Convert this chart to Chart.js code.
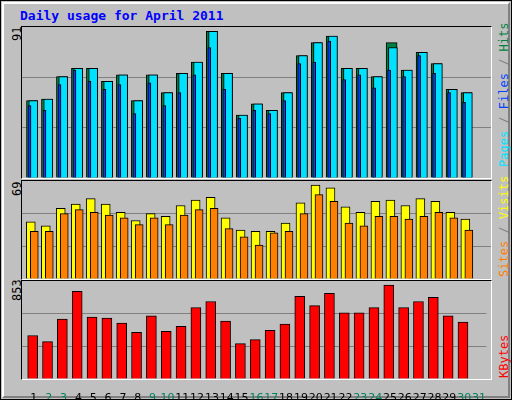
<!DOCTYPE html>
<html><head><meta charset="utf-8">
<script src="https://cdn.jsdelivr.net/npm/chart.js@4"></script>
<style>
body{margin:0;background:#fff}
#frame{position:absolute;left:0;top:0;width:510px;height:398px;border:1px solid #000;background:#c0c0c0;overflow:hidden}
#bev{position:absolute;left:1px;top:1px;width:504px;height:392px;border-top:2px solid #fff;border-left:2px solid #fff;border-right:2px solid #808080;border-bottom:2px solid #808080}
.panel{position:absolute;left:20px;width:469px;border-top:1px solid #000;border-left:1px solid #000;border-right:1px solid #fff;border-bottom:1px solid #fff}
canvas{position:absolute}
.t{position:absolute;font-family:"DejaVu Sans Mono",monospace;font-size:12px;white-space:nowrap}
.rot{transform-origin:0 0;transform:rotate(-90deg)}
</style></head><body>
<div id="frame"><div id="bev"></div>
<div class="t" style="left:19px;top:7px;color:#0000ff;font-weight:bold;font-size:13px">Daily usage for April 2011</div>
<div class="panel" style="top:25px;height:151px"></div>
<div class="panel" style="top:179px;height:98px"></div>
<div class="panel" style="top:279px;height:98px"></div>
<div class="t rot" id="l1" style="left:9px;top:40px;color:#000"></div>
<div class="t rot" id="l2" style="left:9px;top:195px;color:#000"></div>
<div class="t rot" id="l3" style="left:9px;top:300px;color:#000"></div>
<div class="t rot" style="left:496px;top:166px"><span style="color:#00e0ff">Pages</span><span style="color:#808080"> / </span><span style="color:#0040ff">Files</span><span style="color:#808080"> / </span><span style="color:#008040">Hits</span></div>
<div class="t rot" style="left:496px;top:276px"><span style="color:#ff8000">Sites</span><span style="color:#808080"> / </span><span style="color:#ffff00">Visits</span></div>
<div class="t rot" style="left:496px;top:377px;color:#ff0000">KBytes</div>
<canvas id="c1" style="left:21px;top:26px"></canvas>
<canvas id="c2" style="left:21px;top:180px"></canvas>
<canvas id="c3" style="left:21px;top:280px"></canvas>
</div>
<script>
const days=[1,2,3,4,5,6,7,8,9,10,11,12,13,14,15,16,17,18,19,20,21,22,23,24,25,26,27,28,29,30];
const allDays=[...days,31];
const weekend=[2,3,9,10,16,17,23,24,30,31];
const hits=[48,49,63,68,68,60,64,48,64,53,65,72,91,65,39,46,42,53,76,84,88,68,68,63,84,67,78,71,55,53];
const files=[48,49,63,68,68,60,64,48,64,53,65,72,91,65,39,46,42,53,76,84,88,68,68,63,81,67,78,71,55,53];
const pages=[45,42,58,67,60,55,58,40,59,45,53,64,81,55,37,42,40,48,71,72,85,61,64,56,67,63,76,65,53,47];
const visits=[42,39,52,55,59,55,49,43,48,46,54,58,60,45,36,35,35,41,56,69,67,53,49,57,58,54,59,57,49,44];
const sites=[35,35,48,51,49,47,45,40,45,40,47,51,52,37,31,25,34,35,48,62,57,41,39,46,46,44,46,49,45,36];
const kbytes=[395,339,545,797,563,554,507,423,573,433,479,648,704,526,321,358,442,498,750,666,778,601,601,648,853,648,704,741,573,517];

document.getElementById('l1').textContent=Math.max(...hits);
document.getElementById('l2').textContent=Math.max(...visits);
document.getElementById('l3').textContent=Math.max(...kbytes);

const PX=15.02;
function ds(vals,color,w,offPx,order){
  return {data:days.map((d,i)=>({x:d+offPx/PX,y:vals[i]})),backgroundColor:color,borderColor:'#000',borderWidth:1,
    barThickness:w,grouped:false,borderSkipped:'bottom',order};
}
function mk(id,w,h,datasets,ymax,withX){
  const c=document.getElementById(id);c.width=w;c.height=h;c.style.width=w+'px';c.style.height=h+'px';
  new Chart(c,{type:'bar',data:{datasets},options:{
    responsive:false,animation:false,devicePixelRatio:1,
    layout:{padding:0},
    plugins:{legend:{display:false},tooltip:{enabled:false}},
    scales:{
      x:{type:'linear',min:0.2,max:31.5,offset:false,display:withX,grid:{display:false},border:{display:false},
        afterBuildTicks:s=>{s.ticks=allDays.map(v=>({value:v}));},
        afterFit:s=>{if(withX)s.height=22;},
        ticks:{autoSkip:false,maxRotation:0,padding:5,font:{family:'DejaVu Sans',size:11},
          color:ctx=>weekend.includes(ctx.tick.value)?'#00805c':'#000',callback:v=>String(v)}},
      y:{min:0,max:ymax,display:true,border:{display:false},
        afterFit:s=>{s.width=0;},
        afterBuildTicks:s=>{s.ticks=[0,1,2,3].map(k=>({value:ymax*k/3}));},
        ticks:{display:false},
        grid:{drawTicks:false,color:ctx=>(ctx.index===1||ctx.index===2)?'#808080':'rgba(0,0,0,0)'}}
    }}});
}
mk('c1',469,151,[ds(hits,'#008040',11,-2,3),ds(files,'#00e0ff',9,-0.7,2),ds(pages,'#0040ff',3,-4.5,1)],93.7,false);
mk('c2',469,98,[ds(visits,'#ffff00',9,-3.2,2),ds(sites,'#ff8000',8,0.3,1)],72,false);
mk('c3',469,98+22,[ds(kbytes,'#ff0000',10,-1.2,1)],890,true);
</script></body></html>
